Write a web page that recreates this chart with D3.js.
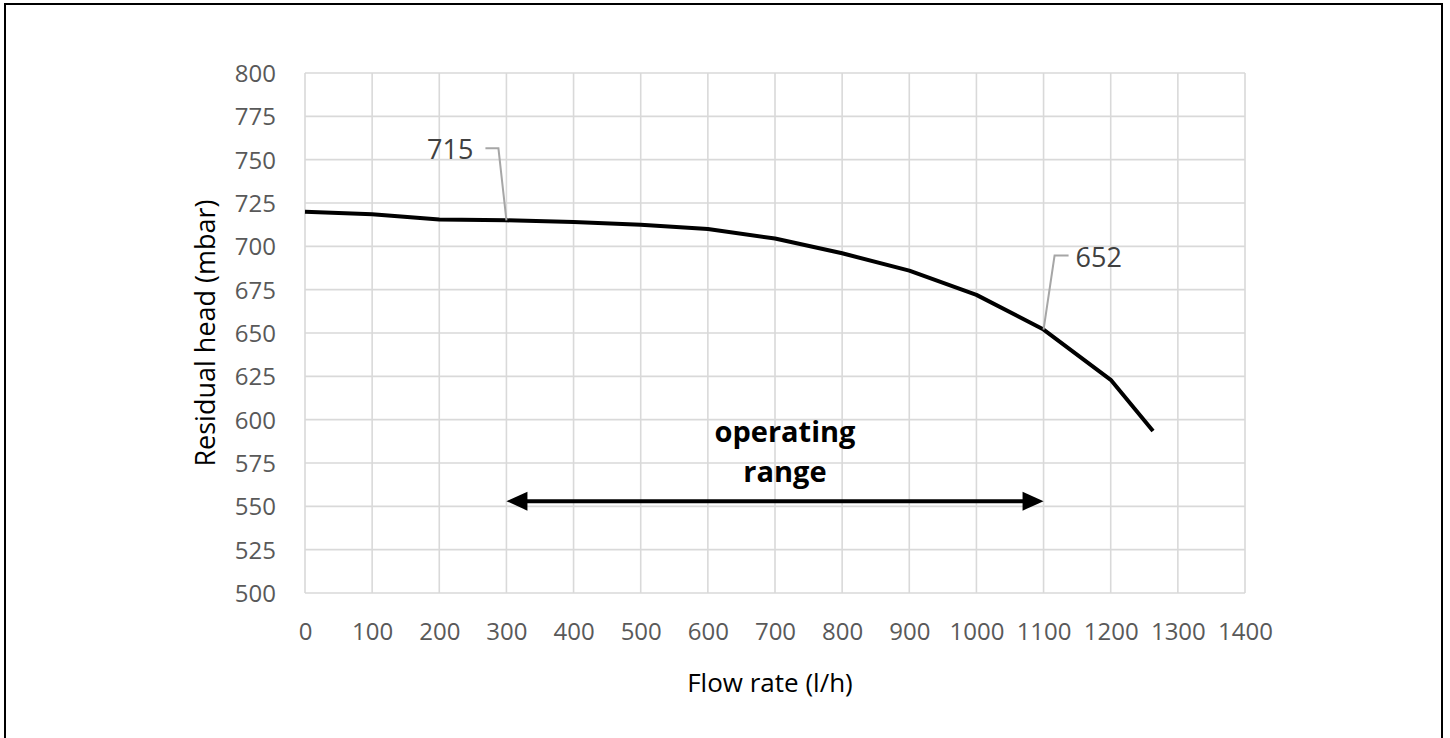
<!DOCTYPE html>
<html>
<head>
<meta charset="utf-8">
<script src="https://cdn.jsdelivr.net/npm/d3@7"></script>
<style>
  html, body { margin: 0; padding: 0; background: #fff; }
  svg { display: block; }
</style>
</head>
<body>
<svg id="chart" width="1450" height="738"></svg>
<script>
// ---- data ----
const flowRate = [0, 100, 200, 300, 400, 500, 600, 700, 800, 900, 1000, 1100, 1200, 1263];
const residualHead = [720, 718.5, 715.5, 715, 714, 712.5, 710, 704.5, 696, 686, 672, 652, 623, 593.5];
const xTicks = [0, 100, 200, 300, 400, 500, 600, 700, 800, 900, 1000, 1100, 1200, 1300, 1400];
const yTicks = [500, 525, 550, 575, 600, 625, 650, 675, 700, 725, 750, 775, 800];
const annotations = [
  { x: 300, y: 715, label: "715", side: "left" },
  { x: 1100, y: 652, label: "652", side: "right" }
];
const rangeStart = 300, rangeEnd = 1100, rangeLevel = 553;
const rangeLabel = ["operating", "range"];
const xTitle = "Flow rate (l/h)";
const yTitle = "Residual head (mbar)";

(function () {
// ---- layout ----
const svg = d3.select("#chart");
const pLeft = 305, pRight = 1245, pTop = 73, pBottom = 593;
const font = "'Open Sans', 'Noto Sans', sans-serif";

const x = d3.scaleLinear().domain([0, 1400]).range([pLeft, pRight]);
const y = d3.scaleLinear().domain([500, 800]).range([pBottom, pTop]);

// outer frame
svg.append("rect")
  .attr("x", 5).attr("y", 4).attr("width", 1437).attr("height", 760)
  .attr("fill", "none").attr("stroke", "#000").attr("stroke-width", 2);

// grid
const grid = svg.append("g");
grid.selectAll("line.v").data(xTicks).enter().append("line")
  .attr("x1", d => x(d)).attr("x2", d => x(d))
  .attr("y1", pTop).attr("y2", pBottom)
  .attr("stroke", "#d9d9d9").attr("stroke-width", 1.6);
grid.selectAll("line.h").data(yTicks).enter().append("line")
  .attr("x1", pLeft).attr("x2", pRight)
  .attr("y1", d => y(d)).attr("y2", d => y(d))
  .attr("stroke", "#d9d9d9").attr("stroke-width", 1.6);

// axes (labels only)
const xAxis = d3.axisBottom(x).tickValues(xTicks).tickSize(0).tickPadding(0).tickFormat(d3.format("d"));
const gx = svg.append("g").attr("transform", `translate(0,${pBottom})`).call(xAxis);
gx.select(".domain").remove();
gx.selectAll("text")
  .attr("y", 47).attr("dy", 0)
  .attr("font-family", font).attr("font-size", 24).attr("fill", "#595959");

const yAxis = d3.axisLeft(y).tickValues(yTicks).tickSize(0).tickPadding(0).tickFormat(d3.format("d"));
const gy = svg.append("g").attr("transform", `translate(${pLeft},0)`).call(yAxis);
gy.select(".domain").remove();
gy.selectAll("text")
  .attr("x", -29).attr("dy", "0.35em")
  .attr("font-family", font).attr("font-size", 24).attr("fill", "#595959");

// axis titles
svg.append("text")
  .attr("x", 770).attr("y", 692)
  .attr("text-anchor", "middle")
  .attr("font-family", font).attr("font-size", 26).attr("fill", "#000")
  .text(xTitle);
svg.append("text")
  .attr("transform", `translate(215,${(pTop + pBottom) / 2}) rotate(-90)`)
  .attr("text-anchor", "middle")
  .attr("font-family", font).attr("font-size", 27).attr("fill", "#000")
  .text(yTitle);

// curve
const pts = flowRate.map((f, i) => [f, residualHead[i]]);
svg.append("path")
  .datum(pts)
  .attr("d", d3.line().x(d => x(d[0])).y(d => y(d[1])))
  .attr("fill", "none").attr("stroke", "#000").attr("stroke-width", 4)
  .attr("stroke-linejoin", "round").attr("stroke-linecap", "butt");

// annotations with leader lines
annotations.forEach(a => {
  const px = x(a.x), py = y(a.y);
  let pts2, tx, anchor;
  if (a.side === "left") {
    pts2 = [[px, py], [px - 8, py - 72], [px - 21, py - 72]];
    tx = px - 33; anchor = "end";
  } else {
    pts2 = [[px, py], [px + 11, py - 74], [px + 25, py - 74]];
    tx = px + 32; anchor = "start";
  }
  svg.append("path")
    .attr("d", d3.line()(pts2))
    .attr("fill", "none").attr("stroke", "#a6a6a6").attr("stroke-width", 2);
  svg.append("text")
    .attr("x", tx).attr("y", pts2[2][1] + 11)
    .attr("text-anchor", anchor)
    .attr("font-family", font).attr("font-size", 27).attr("fill", "#404040")
    .text(a.label);
});

// operating range arrow
const ay = y(rangeLevel);
const x1 = x(rangeStart), x2 = x(rangeEnd);
const headL = 21, headW = 9.5;
svg.append("line")
  .attr("x1", x1 + headL - 2).attr("x2", x2 - headL + 2)
  .attr("y1", ay).attr("y2", ay)
  .attr("stroke", "#000").attr("stroke-width", 4);
svg.append("path")
  .attr("d", `M${x1},${ay} L${x1 + headL},${ay - headW} L${x1 + headL},${ay + headW} Z`)
  .attr("fill", "#000");
svg.append("path")
  .attr("d", `M${x2},${ay} L${x2 - headL},${ay - headW} L${x2 - headL},${ay + headW} Z`)
  .attr("fill", "#000");

const rl = svg.append("text")
  .attr("text-anchor", "middle")
  .attr("font-family", font).attr("font-size", 29).attr("font-weight", "bold").attr("fill", "#000");
rangeLabel.forEach((t, i) => {
  rl.append("tspan").attr("x", 785).attr("y", 442 + i * 40).text(t);
});
})();
</script>
</body>
</html>
